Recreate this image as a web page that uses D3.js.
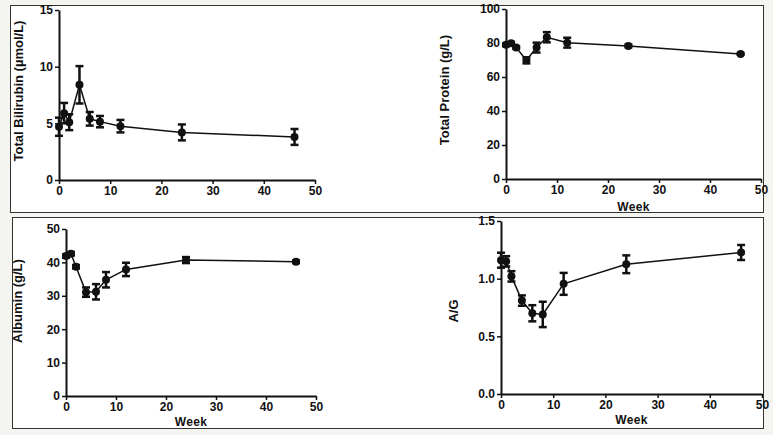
<!DOCTYPE html>
<html>
<head>
<meta charset="utf-8">
<script src="https://cdn.jsdelivr.net/npm/d3@7"></script>
<style>
  html, body { margin: 0; padding: 0; background: #f4f4f1; }
  svg { display: block; }
  text { font-family: "Liberation Sans", Arial, sans-serif; font-weight: bold; fill: #111; }
</style>
</head>
<body>
<div id="chart"></div>
<script>
// weeks sampled
const weeks = [0, 1, 2, 4, 6, 8, 12, 24, 46];

// means and SEM for each panel
const bilirubin = [4.7, 5.9, 5.1, 8.4, 5.4, 5.15, 4.75, 4.2, 3.8];
const bilirubinErr = [0.8, 0.9, 0.7, 1.65, 0.6, 0.5, 0.55, 0.7, 0.7];

const protein = [78.9, 79.8, 77.3, 69.8, 77.3, 83.4, 80.2, 78.3, 73.6];
const proteinErr = [0.8, 0.8, 0.8, 1.8, 2.9, 3.0, 2.9, 0.8, 0.5];

const albumin = [41.9, 42.6, 38.7, 31.1, 31.2, 34.8, 37.9, 40.7, 40.2];
const albuminErr = [0.5, 0.5, 0.5, 1.4, 2.3, 2.3, 2.0, 0.9, 0.4];

const ag = [1.16, 1.15, 1.02, 0.81, 0.70, 0.69, 0.955, 1.125, 1.227];
const agErr = [0.065, 0.045, 0.045, 0.045, 0.07, 0.11, 0.095, 0.077, 0.065];

const xTicks = [0, 10, 20, 30, 40, 50];

const W = 773, H = 435;

const svg = d3.select("#chart").append("svg")
  .attr("width", W)
  .attr("height", H);

// the two framed boxes
svg.append("rect").attr("x", 10.5).attr("y", 5.5).attr("width", 753).attr("height", 207)
  .attr("fill", "#fff").attr("stroke", "#333").attr("stroke-width", 1);
svg.append("rect").attr("x", 12.5).attr("y", 217.5).attr("width", 751).attr("height", 211)
  .attr("fill", "#fff").attr("stroke", "#333").attr("stroke-width", 1);

const panels = [
  {vals: bilirubin, err: bilirubinErr, yDomain: [0, 15], yTicks: [0, 5, 10, 15], fmt: d3.format("d"),
   left: 59, right: 315, top: 10, bottom: 180, ylabel: "Total Bilirubin (\u00b5mol/L)", labelX: 23, labelY: 91, week: false},
  {vals: protein, err: proteinErr, yDomain: [0, 100], yTicks: [0, 20, 40, 60, 80, 100], fmt: d3.format("d"),
   left: 506, right: 761, top: 9, bottom: 179, ylabel: "Total Protein (g/L)", labelX: 449, labelY: 90, week: true, weekY: 211},
  {vals: albumin, err: albuminErr, yDomain: [0, 50], yTicks: [0, 10, 20, 30, 40, 50], fmt: d3.format("d"),
   left: 66, right: 316, top: 229, bottom: 396, ylabel: "Albumin (g/L)", labelX: 22, labelY: 301, week: true, weekY: 426},
  {vals: ag, err: agErr, yDomain: [0, 1.5], yTicks: [0, 0.5, 1.0, 1.5], fmt: d3.format(".1f"),
   left: 501, right: 762, top: 221, bottom: 394, ylabel: "A/G", labelX: 458, labelY: 311, week: true, weekY: 424}
];

panels.forEach(p => {
  const x = d3.scaleLinear().domain([0, 50]).range([p.left, p.right]);
  const y = d3.scaleLinear().domain(p.yDomain).range([p.bottom, p.top]);
  const g = svg.append("g");

  // x axis
  const xa = g.append("g")
    .attr("transform", "translate(0," + p.bottom + ")")
    .call(d3.axisBottom(x).tickValues(xTicks).tickSize(4).tickSizeOuter(0).tickPadding(2));
  // y axis
  const ya = g.append("g")
    .attr("transform", "translate(" + p.left + ",0)")
    .call(d3.axisLeft(y).tickValues(p.yTicks).tickFormat(p.fmt).tickSize(4).tickSizeOuter(0).tickPadding(2));

  [xa, ya].forEach(a => {
    a.select(".domain").attr("stroke", "#111").attr("stroke-width", 2);
    a.selectAll(".tick line").attr("stroke", "#111").attr("stroke-width", 1.5);
    a.selectAll("text").attr("font-size", 12).attr("font-family", "Liberation Sans, Arial, sans-serif")
      .attr("font-weight", "bold").attr("fill", "#111");
  });

  // y label
  g.append("text")
    .attr("transform", "translate(" + p.labelX + "," + p.labelY + ") rotate(-90)")
    .attr("text-anchor", "middle")
    .attr("font-size", 13)
    .text(p.ylabel);

  if (p.week) {
    g.append("text")
      .attr("x", (p.left + p.right) / 2)
      .attr("y", p.weekY)
      .attr("text-anchor", "middle")
      .attr("font-size", 12)
      .attr("letter-spacing", 0.4)
      .text("Week");
  }

  const data = weeks.map((w, i) => ({w: w, v: p.vals[i], e: p.err[i]}));

  // connecting line
  g.append("path")
    .datum(data)
    .attr("fill", "none")
    .attr("stroke", "#111")
    .attr("stroke-width", 1.5)
    .attr("d", d3.line().x(d => x(d.w)).y(d => y(d.v)));

  // error bars
  const eb = g.append("g").selectAll("g").data(data).enter().append("g")
    .attr("stroke", "#111");
  eb.append("line")
    .attr("stroke-width", 2.5)
    .attr("x1", d => x(d.w)).attr("x2", d => x(d.w))
    .attr("y1", d => y(d.v + d.e)).attr("y2", d => y(d.v - d.e));
  eb.append("line")
    .attr("stroke-width", 2.5)
    .attr("x1", d => x(d.w) - 4).attr("x2", d => x(d.w) + 4)
    .attr("y1", d => y(d.v + d.e)).attr("y2", d => y(d.v + d.e));
  eb.append("line")
    .attr("stroke-width", 2.5)
    .attr("x1", d => x(d.w) - 4).attr("x2", d => x(d.w) + 4)
    .attr("y1", d => y(d.v - d.e)).attr("y2", d => y(d.v - d.e));

  // points
  g.append("g").selectAll("circle").data(data).enter().append("circle")
    .attr("cx", d => x(d.w))
    .attr("cy", d => y(d.v))
    .attr("r", 4)
    .attr("fill", "#111");
});
</script>
</body>
</html>
